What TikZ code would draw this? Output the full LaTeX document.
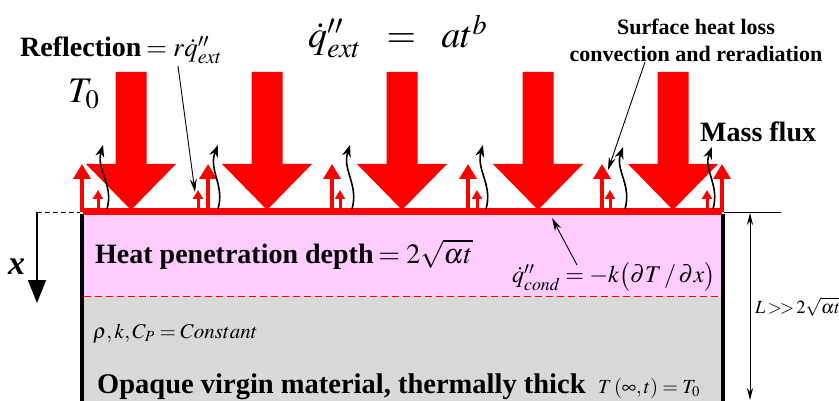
\documentclass[tikz,border=0pt]{standalone}
\usepackage{mathptmx}
\usepackage[no-math]{fontspec}
\setmainfont{Liberation Serif}
\usetikzlibrary{arrows.meta}

\definecolor{camadarosa}{RGB}{255,204,255}
\definecolor{virgem}{RGB}{217,217,217}

\begin{document}
\begin{tikzpicture}[
  x=1pt, y=-1pt,
  rotulo/.style={font=\fontsize{28}{32}\selectfont\bfseries, inner sep=0pt},
  eqgrande/.style={font=\fontsize{38}{42}\selectfont, inner sep=0pt},
  eqmedia/.style={font=\fontsize{24}{28}\selectfont, inner sep=0pt},
  eqpequena/.style={font=\fontsize{21}{24}\selectfont, inner sep=0pt},
  fluxomassa/.style={red, line width=4pt, -{Triangle[width=17pt,length=15pt]}},
  fluxomenor/.style={red, line width=3pt, -{Triangle[width=10pt,length=9pt]}},
  perda/.style={line width=1.6pt, -{Stealth[length=12pt,width=9pt]}},
  seta/.style={line width=0.9pt, -{Stealth[length=13pt,width=7pt]}},
  setadupla/.style={line width=0.8pt, {Stealth[length=12pt,width=6pt]}-{Stealth[length=12pt,width=6pt]}},
  setagrande/.pic={\fill[red] (-15.5,-138) -- (15.5,-138) -- (15.5,-46) -- (45,-46)
                    -- (0,0) -- (-45,-46) -- (-15.5,-46) -- cycle;}
]
\useasboundingbox (0,0) rectangle (839,401);

% ---------- Material (camada aquecida e material virgem) ----------
\fill[camadarosa] (83,212) rectangle (722,296);
\fill[virgem] (83,296) rectangle (722,401);
\draw[red, line width=0.8pt, dash pattern=on 7pt off 4pt] (84,296) -- (720,296);
\draw[line width=4pt] (82,214) -- (82,401);
\draw[line width=4pt] (722.5,214) -- (722.5,401);

% ---------- Eixo x e espessura L ----------
\draw[line width=0.8pt, dash pattern=on 5pt off 3pt] (37,212) -- (80,212);
\draw[line width=1.8pt, -{Triangle[width=18pt,length=23pt]}] (37,212) -- (37,303);
\node[font=\fontsize{34}{36}\selectfont\bfseries\itshape, inner sep=0pt, anchor=base west] (eixox) at (8,275) {x};
\draw[line width=0.8pt] (724,212) -- (781,212);
\draw[setadupla] (750,213) -- (750,400);
\node[font=\fontsize{18.5}{22}\selectfont, inner sep=0pt, anchor=base west] (espessura) at (755,313)
  {$L\,{>}\!{>}\,2\sqrt{\alpha t}$};

% ---------- Superficie ----------
\draw[red, line width=7pt] (83,211.5) -- (722,211.5);

% ---------- Fluxo externo (setas grandes) ----------
\pic at (131,210) {setagrande};
\pic at (267,210) {setagrande};
\pic at (402,210) {setagrande};
\pic at (538,210) {setagrande};
\pic at (673,210) {setagrande};

% ---------- Fluxo de massa (setas vermelhas) ----------
\draw[fluxomassa] (82,212) -- (82,164);   \draw[fluxomenor] (98,212) -- (98,190);
\draw[fluxomenor] (198,212) -- (198,190); \draw[fluxomassa] (208,212) -- (208,164);
\draw[fluxomassa] (332,212) -- (332,164); \draw[fluxomenor] (340,212) -- (340,190);
\draw[fluxomassa] (468,212) -- (468,164); \draw[fluxomenor] (477,212) -- (477,190);
\draw[fluxomassa] (602,212) -- (602,164); \draw[fluxomenor] (610,212) -- (610,190);
\draw[fluxomenor] (707,212) -- (707,190); \draw[fluxomassa] (722,212) -- (722,164);

% ---------- Perdas superficiais (setas onduladas) ----------
\draw[perda] (107,209) .. controls (114,185) and (96,170) .. (103,145);
\draw[perda] (218,209) .. controls (225,185) and (208,170) .. (218,145);
\draw[perda] (352,209) .. controls (359,185) and (342,170) .. (350,145);
\draw[perda] (486,209) .. controls (493,185) and (476,170) .. (483,145);
\draw[perda] (625,209) .. controls (632,185) and (615,170) .. (623,147);
\draw[perda] (713,209) .. controls (720,185) and (703,170) .. (712,147);

% ---------- Rotulos superiores ----------
\node[rotulo, anchor=base west] (reflexao) at (20,57)
  {Reflection\,{\fontsize{27}{30}\selectfont$=r\dot{q}''_{ext}$}};
\node[font=\fontsize{36}{40}\selectfont, inner sep=0pt, anchor=base west] (tzero) at (68,103) {$T_0$};
\node[eqgrande, anchor=base west] (fluxoext) at (308,48) {$\dot{q}''_{ext}\;\;=\;\;at^{b}$};
\node[font=\fontsize{22}{27}\selectfont\bfseries, inner sep=0pt, align=center] (perdasup) at (696,40)
  {Surface heat loss\\convection and reradiation};
\node[rotulo, anchor=base west] (massa) at (700,142) {Mass flux};

\coordinate (alvoreflexao) at (195,192);
\coordinate (alvoperda) at (608,170);
\draw[seta] (178,66) -- (alvoreflexao);
\draw[seta] (645,62) -- (alvoperda);

% ---------- Rotulos no material ----------
\node[rotulo, anchor=base west] (penetracao) at (95,263)
  {Heat penetration depth\,$=2\sqrt{\alpha t}$};
\node[eqmedia, anchor=base west] (conducao) at (512,283)
  {$\dot{q}''_{cond}=-k\bigl(\partial T\,/\,\partial x\bigr)$};
\coordinate (alvoconducao) at (552,218);
\draw[seta] (577,265) -- (alvoconducao);
\node[eqpequena, anchor=base west] (propriedades) at (93,338) {$\rho,k,C_P=Constant$};
\node[font=\fontsize{28.5}{32}\selectfont\bfseries, inner sep=0pt, anchor=base west] (virgem) at (97,393)
  {Opaque virgin material, thermally thick};
\node[font=\fontsize{20}{24}\selectfont, inner sep=0pt, anchor=base west] (contorno) at (598,393)
  {$T\left(\infty,t\right)=T_0$};

\end{tikzpicture}
\end{document}
